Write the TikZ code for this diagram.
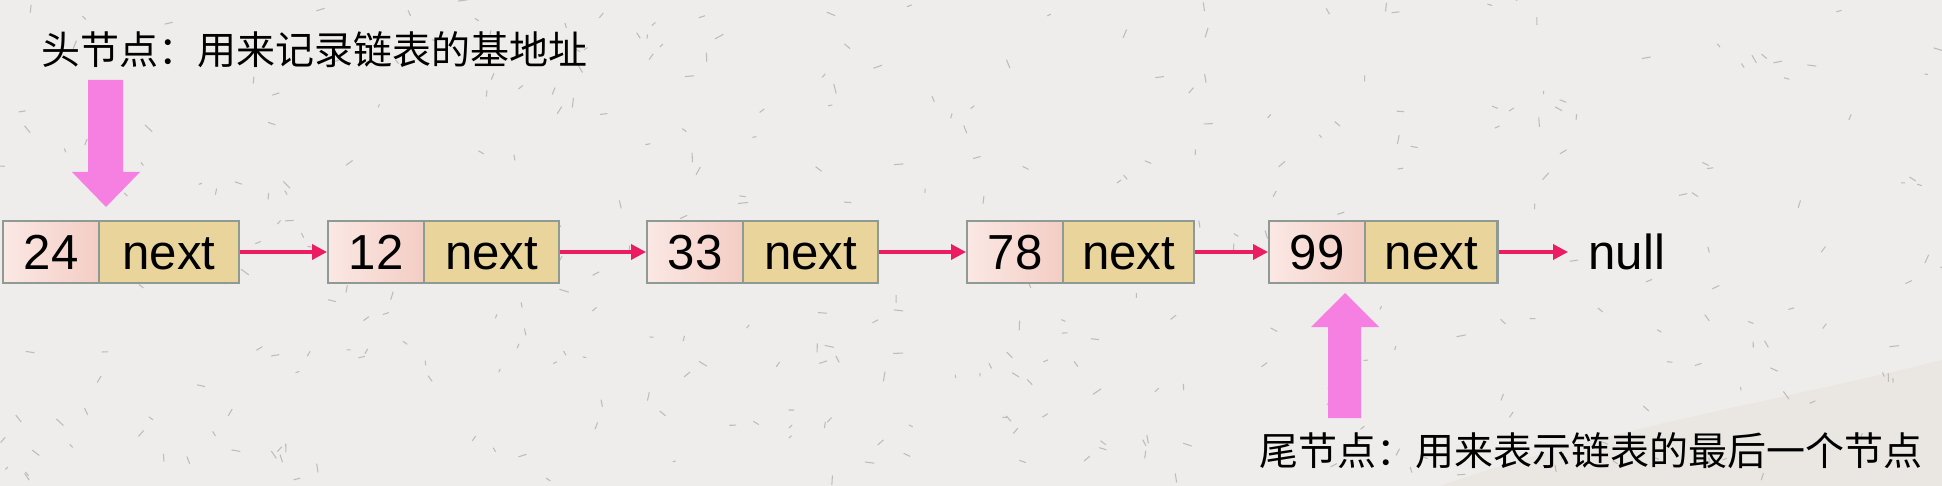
\documentclass[tikz,border=0pt]{standalone}
\usepackage{fontspec}
\setmainfont{Liberation Sans}
\newfontfamily\cjk{Noto Sans CJK SC}
\usepackage{tikz}
\usetikzlibrary{arrows.meta,positioning}
\definecolor{cellpink}{RGB}{251,232,228}
\definecolor{cellsalmon}{RGB}{243,205,196}
\definecolor{celltan}{RGB}{233,212,156}
\definecolor{cellline}{RGB}{142,154,148}
\definecolor{linkred}{RGB}{236,28,98}
\definecolor{pointerpink}{RGB}{246,128,226}
\definecolor{paper}{RGB}{239,237,235}
\definecolor{paperdark}{RGB}{234,230,226}
\definecolor{speck}{RGB}{190,187,184}
\newcommand{\numfont}{\fontsize{28}{32}\selectfont}
\newcommand{\notefont}{\cjk\fontsize{22.2}{26}\selectfont}

\begin{document}
\begin{tikzpicture}[x=0.02cm,y=-0.02cm,
    cell/.style={draw=cellline,line width=1.2pt,minimum height=1.24cm,inner sep=0pt,text height=0.72cm,text depth=0pt,font=\numfont},
    valcell/.style={cell,left color=cellpink,right color=cellsalmon,minimum width=1.92cm},
    nextcell/.style={cell,fill=celltan},
    link/.style={draw=linkred,line width=2pt,-{Triangle[length=0.3cm,width=0.3cm]}},
    pointer/.style={fill=pointerpink},
    note/.style={inner sep=0pt,font=\notefont}]
    \useasboundingbox (0,0) rectangle (1942,486);

    % paper
    \fill[paper] (0,0) rectangle (1942,486);
    \fill[paperdark] (1440,486) .. controls (1600,430) and (1760,405) .. (1942,360) -- (1942,486) -- cycle;
    \pgfmathsetseed{11}
    \foreach \k in {1,...,360}
      \draw[speck,line width=0.6pt] ({1942*rnd},{486*rnd}) -- ++({360*rnd}:{3+7*rnd});

    % list
    \foreach \i/\x/\val/\w in {1/2/24/2.8cm,2/327/12/2.7cm,3/646/33/2.7cm,4/966/78/2.62cm,5/1268/99/2.65cm}{
      \node (v\i) at (\x,252) [valcell,right] {\val};
      \node (n\i) [nextcell,right=-1.2pt of v\i,minimum width=\w] {next};
    }
    \node (nul) at (1568,252) [right,inner xsep=0.4cm,inner ysep=0pt,text height=0.72cm,text depth=0pt,font=\numfont] {null};

    \foreach \i [count=\j from 2] in {1,...,4}
      \draw[link] (n\i) -- (v\j);
    \draw[link] (n5) -- (nul);

    % head and tail
    \node (headnote) at (41,50) [note,right] {头节点：用来记录链表的基地址};
    \node (tailnote) at (1259,451) [note,right] {尾节点：用来表示链表的最后一个节点};
    \fill[pointer] (88,80) -- (123,80) -- (123,172) -- (140,172) -- (106,207) -- (72,172) -- (88,172) -- cycle;
    \fill[pointer] (1328,418) -- (1361,418) -- (1361,327) -- (1379,327) -- (1345,293) -- (1311,327) -- (1328,327) -- cycle;
\end{tikzpicture}
\end{document}
